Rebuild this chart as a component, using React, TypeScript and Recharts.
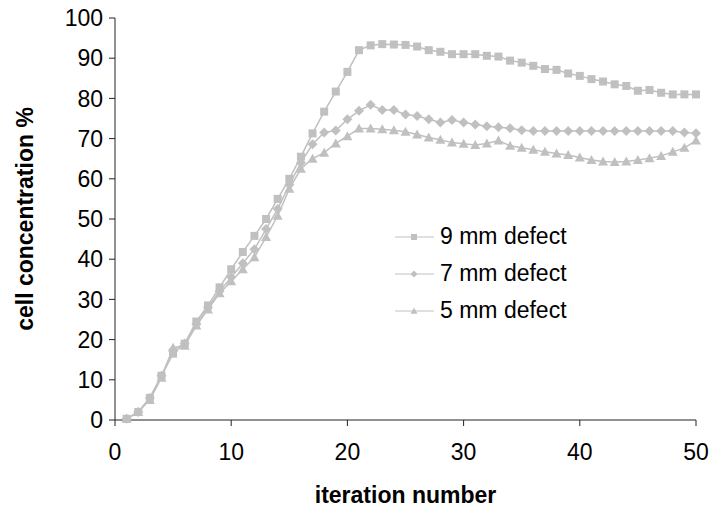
import { LineChart, Line, XAxis, YAxis } from "recharts";

const iterations = [
  1, 2, 3, 4, 5, 6, 7, 8, 9, 10, 11, 12, 13, 14, 15, 16, 17, 18, 19, 20, 21,
  22, 23, 24, 25, 26, 27, 28, 29, 30, 31, 32, 33, 34, 35, 36, 37, 38, 39, 40,
  41, 42, 43, 44, 45, 46, 47, 48, 49, 50,
];

const defect9 = [
  0.3, 2, 5.5, 11, 16.5, 19, 24.5, 28.5, 33, 37.5, 41.8, 45.8, 50, 55, 60,
  65.5, 71.3, 76.7, 81.7, 86.6, 92, 93.2, 93.5, 93.4, 93.3, 92.9, 92, 91.6, 91,
  91, 91, 90.6, 90.4, 89.4, 88.9, 88.1, 87.3, 87.1, 86.2, 85.6, 84.8, 84.2,
  83.5, 83.1, 81.9, 82.1, 81.4, 81, 81, 81,
];

const defect7 = [
  0.3, 2, 5.5, 11, 17.5, 19, 23.8, 28, 32, 35.5, 39, 42.5, 47.5, 52.5, 58.5,
  64, 68.6, 71.5, 72, 74.8, 76.9, 78.4, 77.1, 77.1, 76, 75.6, 74.8, 74, 74.6,
  74, 73.5, 73.1, 72.8, 72.6, 72.1, 71.9, 71.9, 71.9, 71.9, 71.9, 71.9, 71.9,
  71.9, 71.9, 71.9, 71.9, 71.9, 71.9, 71.5, 71.3,
];

const defect5 = [
  0.3, 2, 5, 10.5, 18, 18.5, 23.5, 27.5, 31.5, 34.5, 37.5, 40.5, 45.5, 50.8,
  57.5, 62.5, 65, 66.5, 68.8, 70.6, 72.5, 72.5, 72.3, 72.1, 71.7, 71, 70.3,
  69.7, 69, 68.7, 68.4, 68.8, 69.5, 68.2, 67.7, 67.2, 66.7, 66.3, 65.9, 65.3,
  64.7, 64.3, 64.2, 64.3, 64.7, 65.1, 65.7, 66.7, 67.7, 69.5,
];

const xTicks = [0, 10, 20, 30, 40, 50];
const yTicks = [0, 10, 20, 30, 40, 50, 60, 70, 80, 90, 100];

const seriesNames = ["9 mm defect", "7 mm defect", "5 mm defect"];

const data = iterations.map((it, i) => ({
  it,
  d9: defect9[i],
  d7: defect7[i],
  d5: defect5[i],
}));

const GREY = "#c0c0c0";
const AXIS = "#222";
const FONT = "'Liberation Sans', Arial, sans-serif";
const FS = 23;

const Square = (props: any) => {
  const { cx, cy, s = 4 } = props;
  if (cx == null || cy == null) return null;
  return <rect x={cx - s} y={cy - s} width={2 * s} height={2 * s} fill={GREY} />;
};

const Diamond = (props: any) => {
  const { cx, cy, s = 5 } = props;
  if (cx == null || cy == null) return null;
  return (
    <polygon
      points={`${cx},${cy - s} ${cx + s},${cy} ${cx},${cy + s} ${cx - s},${cy}`}
      fill={GREY}
    />
  );
};

const Triangle = (props: any) => {
  const { cx, cy, s = 5 } = props;
  if (cx == null || cy == null) return null;
  return (
    <polygon
      points={`${cx},${cy - s} ${cx + s},${cy + s * 0.8} ${cx - s},${cy + s * 0.8}`}
      fill={GREY}
    />
  );
};

const markers = [Square, Diamond, Triangle];
const legendSizes = [3, 3.5, 3.5];

function LegendBox() {
  return (
    <div
      style={{
        position: "absolute",
        left: 395,
        top: 218,
        fontFamily: FONT,
        fontSize: FS,
        color: "#000",
      }}
    >
      {seriesNames.map((name, i) => {
        const M = markers[i];
        return (
          <div
            key={name}
            style={{ display: "flex", alignItems: "center", height: 37 }}
          >
            <svg width={39} height={12} style={{ marginRight: 6 }}>
              <line x1={0} y1={6} x2={39} y2={6} stroke={GREY} strokeWidth={1} />
              <M cx={19} cy={6} s={legendSizes[i]} />
            </svg>
            <span style={{ lineHeight: 1 }}>{name}</span>
          </div>
        );
      })}
    </div>
  );
}

export default function App() {
  return (
    <div
      style={{
        position: "absolute",
        left: 0,
        top: 0,
        width: 710,
        height: 508,
        background: "#fff",
      }}
    >
      <LineChart
        width={710}
        height={508}
        data={data}
        margin={{ top: 18, right: 14, left: 0, bottom: 0 }}
      >
        <XAxis
          dataKey="it"
          type="number"
          domain={[0, 50]}
          ticks={xTicks}
          interval={0}
          height={88}
          stroke={AXIS}
          tickSize={6}
          tickMargin={18}
          tick={{ fill: "#000", fontSize: FS, fontFamily: FONT }}
          label={{
            value: "iteration number",
            position: "insideBottom",
            offset: 5,
            fill: "#000",
            fontSize: FS,
            fontWeight: "bold",
            fontFamily: FONT,
          }}
        />
        <YAxis
          type="number"
          domain={[0, 100]}
          ticks={yTicks}
          interval={0}
          width={115}
          stroke={AXIS}
          tickSize={6}
          tickMargin={6}
          tick={{ fill: "#000", fontSize: FS, fontFamily: FONT }}
          label={{
            value: "cell concentration %",
            angle: -90,
            position: "insideLeft",
            offset: 25,
            fill: "#000",
            fontSize: FS,
            fontWeight: "bold",
            fontFamily: FONT,
            style: { textAnchor: "middle" },
          }}
        />
        <Line
          dataKey="d9"
          name={seriesNames[0]}
          stroke={GREY}
          strokeWidth={1.5}
          dot={<Square />}
          isAnimationActive={false}
        />
        <Line
          dataKey="d7"
          name={seriesNames[1]}
          stroke={GREY}
          strokeWidth={1.5}
          dot={<Diamond />}
          isAnimationActive={false}
        />
        <Line
          dataKey="d5"
          name={seriesNames[2]}
          stroke={GREY}
          strokeWidth={1.5}
          dot={<Triangle />}
          isAnimationActive={false}
        />
      </LineChart>
      <LegendBox />
    </div>
  );
}
